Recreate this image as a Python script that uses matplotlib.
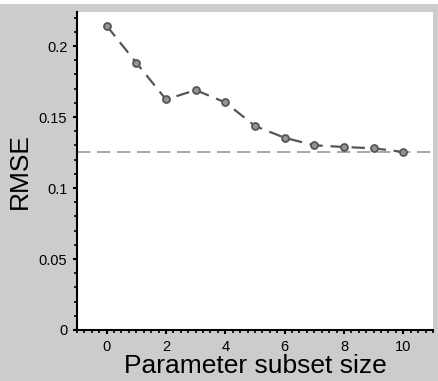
import matplotlib.pyplot as plt
from matplotlib.ticker import MultipleLocator
from matplotlib.patches import Rectangle

plt.rcParams['font.family'] = ['Liberation Sans', 'DejaVu Sans']

subset_size = [0, 1, 2, 3, 4, 5, 6, 7, 8, 9, 10]
rmse = [0.2143, 0.1882, 0.1624, 0.1690, 0.1603, 0.1437, 0.1354, 0.1301, 0.1289, 0.1280, 0.1254]
baseline = 0.1256

fig = plt.figure(figsize=(4.39, 3.81), dpi=100)
fig.patch.set_facecolor('#cccccc')
# thin white strip along the top edge
fig.patches.append(Rectangle((0, 0.99), 1, 0.01, transform=fig.transFigure,
                             facecolor='white', edgecolor='none', zorder=-1))

ax = fig.add_axes([0.1754, 0.1339, 0.8109, 0.8346])
ax.set_facecolor('white')

ax.axhline(baseline, color='#999999', lw=1.2, dashes=(8, 4), zorder=1)
ax.plot(subset_size, rmse, color='#555555', lw=1.6, dashes=(6, 3.5),
        marker='o', markersize=5, markerfacecolor='#959595',
        markeredgecolor='#555555', markeredgewidth=1.3, zorder=2)

ax.set_xlim(-1, 11)
ax.set_ylim(0, 0.224)

ax.xaxis.set_major_locator(MultipleLocator(2))
ax.xaxis.set_minor_locator(MultipleLocator(0.25))
ax.yaxis.set_minor_locator(MultipleLocator(0.01))
ax.set_yticks([0, 0.05, 0.1, 0.15, 0.2])
ax.set_yticklabels(['0', '0.05', '0.1', '0.15', '0.2'])

for side in ['top', 'right']:
    ax.spines[side].set_visible(False)
for side in ['left', 'bottom']:
    ax.spines[side].set_linewidth(1.5)
    ax.spines[side].set_color('black')

ax.tick_params(which='major', direction='out', length=3, width=1.5, labelsize=10.5, pad=4)
ax.tick_params(which='minor', direction='out', length=2, width=1.2)

ax.set_xlabel('Parameter subset size', fontsize=19, labelpad=0)
ax.set_ylabel('RMSE', fontsize=19, labelpad=5)

plt.savefig('out.png', dpi=100, facecolor=fig.get_facecolor())
plt.close()
